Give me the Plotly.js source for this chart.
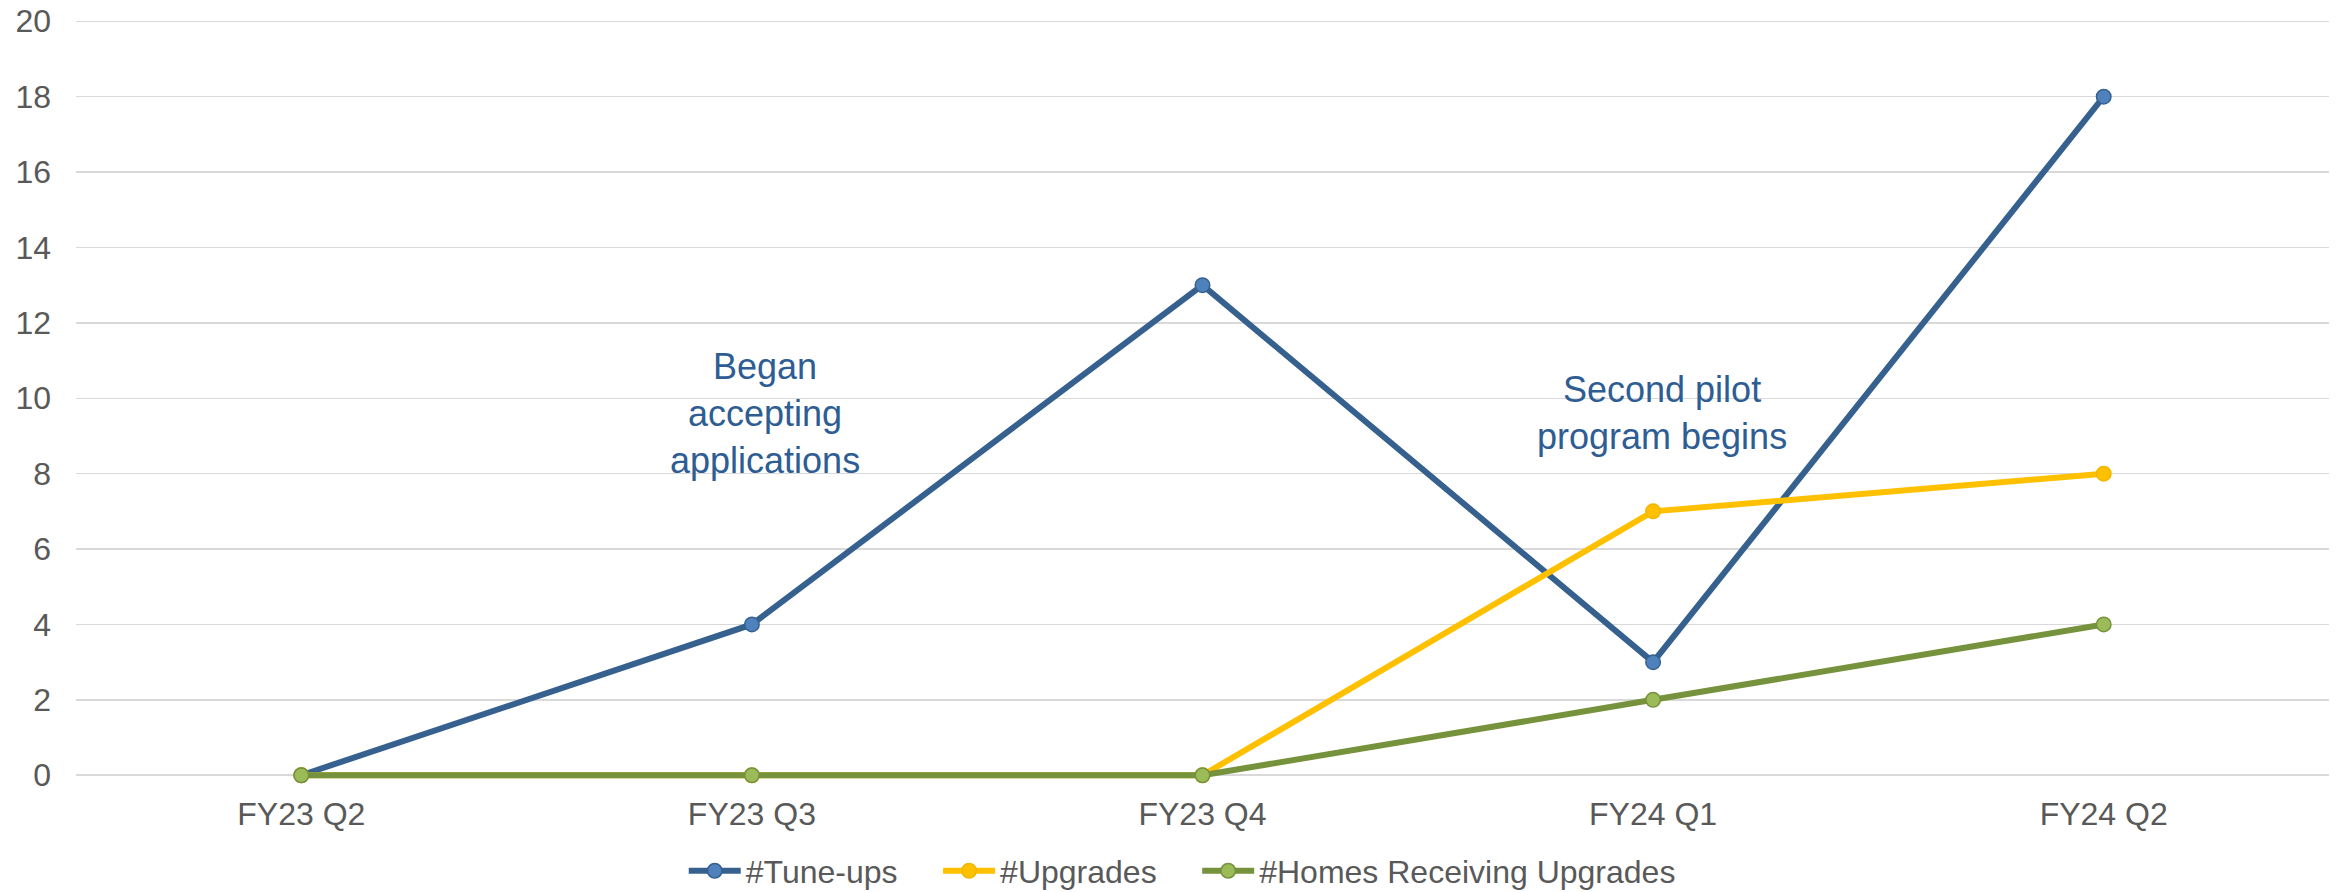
<!DOCTYPE html>
<html>
<head>
<meta charset="utf-8">
<script src="https://cdn.plot.ly/plotly-3.0.1.min.js"></script>
<style>
html,body{margin:0;padding:0;background:#fff;}
#chart{width:2343px;height:892px;}
</style>
</head>
<body>
<div id="chart"></div>
<script>
const categories = ["FY23 Q2", "FY23 Q3", "FY23 Q4", "FY24 Q1", "FY24 Q2"];
const tuneUps = [0, 4, 13, 3, 18];
const upgrades = [0, 0, 0, 7, 8];
const homesReceiving = [0, 0, 0, 2, 4];
const seriesNames = ["#Tune-ups", "#Upgrades", "#Homes Receiving Upgrades"];
const yTicks = [0, 2, 4, 6, 8, 10, 12, 14, 16, 18, 20];
const notes = [
  {text: "Began<br>accepting<br>applications", x: 1.03, y: 9.6},
  {text: "Second pilot<br>program begins", x: 3.02, y: 9.6}
];

const FONT = "Liberation Sans, Arial, sans-serif";
const TXT = "#595959";
const PAD = "\u00A0\u00A0\u00A0\u00A0";

function series(name, values, line, fill, border) {
  return {
    type: "scatter", mode: "lines+markers", name: name,
    x: categories, y: values,
    line: {color: line, width: 6},
    marker: {size: 14.5, color: fill, line: {color: border, width: 1.5}},
    cliponaxis: false
  };
}

const data = [
  series(seriesNames[0] + PAD, tuneUps, "#36618F", "#4F81BD", "#36618F"),
  series(seriesNames[1] + PAD, upgrades, "#FFC000", "#FFC000", "#F2B600"),
  series(seriesNames[2], homesReceiving, "#76923C", "#9BBB59", "#76923C")
];

const layout = {
  width: 2343, height: 892,
  margin: {l: 76, r: 14, t: 19, b: 113, autoexpand: false},
  paper_bgcolor: "#fff", plot_bgcolor: "#fff",
  font: {family: FONT, color: TXT, size: 32},
  showlegend: true,
  legend: {
    orientation: "h", x: 0.491, xanchor: "center", y: -0.121, yanchor: "middle",
    font: {family: FONT, size: 32, color: TXT},
    itemwidth: 52, traceorder: "normal"
  },
  xaxis: {
    type: "category", range: [-0.5, 4.5],
    showgrid: false, zeroline: false, showline: false,
    ticks: "", ticklabelstandoff: 13,
    tickfont: {family: FONT, size: 32, color: TXT}
  },
  yaxis: {
    range: [-0.1, 20.06], tickvals: yTicks,
    showgrid: true, gridcolor: "#D9D9D9", gridwidth: 1.5,
    zeroline: true, zerolinecolor: "#D9D9D9", zerolinewidth: 1.5,
    showline: false, ticks: "", ticklabelstandoff: 24,
    tickfont: {family: FONT, size: 32, color: TXT}
  },
  annotations: notes.map(n => ({
    text: n.text, x: n.x, y: n.y, xref: "x", yref: "y",
    showarrow: false, xanchor: "center", yanchor: "middle", align: "center",
    font: {family: FONT, size: 36, color: "#2E5D93"}
  }))
};

Plotly.newPlot("chart", data, layout, {displayModeBar: false, staticPlot: true});
</script>
</body>
</html>
